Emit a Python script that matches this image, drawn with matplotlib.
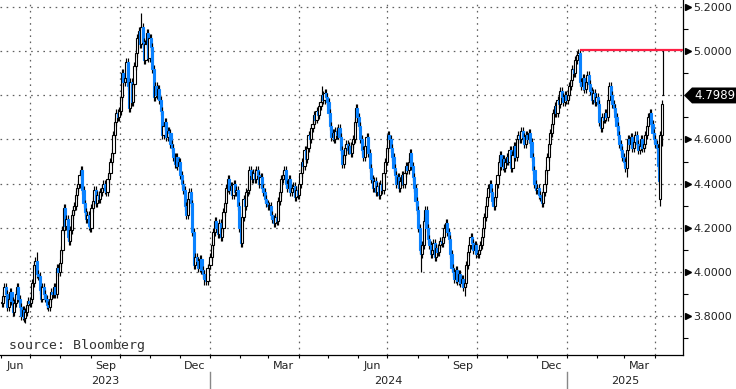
import datetime as dt

import matplotlib
matplotlib.use("Agg")
import matplotlib.pyplot as plt
import matplotlib.dates as mdates
import matplotlib.transforms as mtransforms
from matplotlib.patches import Polygon, Rectangle
from matplotlib.lines import Line2D
from matplotlib.ticker import NullFormatter
import numpy as np

# daily closes (yield, %), one list per month
jun23 = [3.86, 3.89, 3.93, 3.90, 3.84, 3.88, 3.91, 3.87, 3.82, 3.86, 3.90,
         3.93, 3.88, 3.84, 3.80, 3.83, 3.79, 3.82, 3.85, 3.87, 3.86]
jul23 = [3.88, 3.95, 4.03, 4.05, 3.99, 3.98, 3.92, 3.88, 3.93, 3.90, 3.88,
         3.85, 3.84, 3.88, 3.91, 3.90, 3.93, 3.90, 4.02, 4.00, 4.04]
aug23 = [4.10, 4.19, 4.29, 4.21, 4.24, 4.16, 4.14, 4.19, 4.26, 4.28, 4.30,
         4.35, 4.38, 4.40, 4.44, 4.46, 4.37, 4.31, 4.27, 4.24, 4.26, 4.21, 4.20]
sep23 = [4.29, 4.32, 4.37, 4.31, 4.35, 4.33, 4.36, 4.38, 4.40, 4.37, 4.36,
         4.42, 4.45, 4.50, 4.54, 4.62, 4.68, 4.72, 4.70, 4.73]
oct23 = [4.79, 4.90, 4.86, 4.88, 4.95, 4.84, 4.74, 4.86, 4.77, 4.85, 4.93,
         4.99, 5.06, 5.09, 5.03, 5.11, 5.04, 4.96, 5.03, 5.08, 4.97, 5.06]
nov23 = [5.02, 4.92, 4.79, 4.84, 4.80, 4.83, 4.78, 4.73, 4.62, 4.66, 4.68,
         4.61, 4.64, 4.63, 4.58, 4.56, 4.52, 4.49, 4.52, 4.48, 4.50]
dec23 = [4.44, 4.40, 4.37, 4.30, 4.26, 4.33, 4.36, 4.31, 4.18, 4.03, 4.07,
         4.05, 4.02, 4.06, 4.01, 3.99, 3.97, 3.96, 4.02, 4.03]
jan24 = [4.07, 4.12, 4.18, 4.23, 4.20, 4.17, 4.22, 4.16, 4.20, 4.27, 4.31,
         4.38, 4.42, 4.37, 4.39, 4.35, 4.40, 4.36, 4.37, 4.30, 4.20]
feb24 = [4.13, 4.25, 4.33, 4.30, 4.36, 4.37, 4.46, 4.44, 4.42, 4.45, 4.42,
         4.46, 4.44, 4.40, 4.43, 4.38, 4.36, 4.33, 4.31, 4.30]
mar24 = [4.30, 4.26, 4.24, 4.22, 4.25, 4.23, 4.32, 4.36, 4.42, 4.44, 4.46,
         4.40, 4.38, 4.42, 4.36, 4.38, 4.39, 4.34, 4.37, 4.35]
apr24 = [4.40, 4.45, 4.50, 4.48, 4.55, 4.51, 4.56, 4.62, 4.60, 4.65, 4.67,
         4.71, 4.69, 4.73, 4.71, 4.75, 4.77, 4.80, 4.78, 4.81, 4.79, 4.77]
may24 = [4.72, 4.66, 4.61, 4.63, 4.60, 4.64, 4.62, 4.65, 4.61, 4.55, 4.49,
         4.53, 4.56, 4.58, 4.55, 4.57, 4.54, 4.58, 4.60, 4.68, 4.74, 4.70]
jun24 = [4.66, 4.60, 4.55, 4.52, 4.57, 4.61, 4.54, 4.47, 4.42, 4.38, 4.41,
         4.36, 4.39, 4.35, 4.40, 4.37, 4.45, 4.50, 4.56]
jul24 = [4.62, 4.60, 4.56, 4.52, 4.47, 4.44, 4.40, 4.43, 4.38, 4.41, 4.44,
         4.40, 4.45, 4.48, 4.46, 4.50, 4.54, 4.48, 4.43, 4.38, 4.32, 4.28]
aug24 = [4.20, 4.10, 4.08, 4.12, 4.23, 4.28, 4.20, 4.15, 4.12, 4.08, 4.10,
         4.13, 4.07, 4.11, 4.09, 4.12, 4.14, 4.13, 4.16, 4.20, 4.22, 4.18]
sep24 = [4.15, 4.08, 4.02, 4.00, 3.97, 4.01, 3.96, 3.99, 3.95, 3.97, 3.93,
         3.95, 4.03, 4.09, 4.12, 4.16, 4.13, 4.10, 4.12, 4.08]
oct24 = [4.08, 4.10, 4.12, 4.16, 4.20, 4.25, 4.30, 4.34, 4.38, 4.40, 4.36,
         4.32, 4.30, 4.34, 4.40, 4.44, 4.50, 4.53, 4.48, 4.51, 4.47, 4.50, 4.52]
nov24 = [4.50, 4.55, 4.47, 4.53, 4.57, 4.52, 4.60, 4.62, 4.60, 4.64, 4.61,
         4.58, 4.62, 4.60, 4.63, 4.59, 4.52, 4.46, 4.40, 4.37]
dec24 = [4.38, 4.35, 4.34, 4.31, 4.36, 4.40, 4.46, 4.52, 4.58, 4.63, 4.67,
         4.72, 4.75, 4.72, 4.78, 4.76, 4.82, 4.79, 4.77, 4.80, 4.78]
jan25 = [4.80, 4.84, 4.87, 4.92, 4.90, 4.96, 4.98, 4.99, 4.86, 4.84, 4.88,
         4.83, 4.86, 4.89, 4.85, 4.82, 4.78, 4.81, 4.77, 4.79]
feb25 = [4.76, 4.68, 4.65, 4.70, 4.69, 4.72, 4.70, 4.78, 4.84, 4.80, 4.76,
         4.74, 4.70, 4.66, 4.62, 4.58, 4.55, 4.52, 4.50]
mar25 = [4.47, 4.55, 4.60, 4.58, 4.61, 4.56, 4.59, 4.62, 4.58, 4.55, 4.57,
         4.60, 4.56, 4.58, 4.62, 4.66, 4.70, 4.72, 4.67, 4.63, 4.60]
apr25 = [4.58, 4.56, 4.48, 4.41, 4.62, 4.76, 4.7989]

months = [(2023, 6, jun23), (2023, 7, jul23), (2023, 8, aug23), (2023, 9, sep23),
          (2023, 10, oct23), (2023, 11, nov23), (2023, 12, dec23),
          (2024, 1, jan24), (2024, 2, feb24), (2024, 3, mar24), (2024, 4, apr24),
          (2024, 5, may24), (2024, 6, jun24), (2024, 7, jul24), (2024, 8, aug24),
          (2024, 9, sep24), (2024, 10, oct24), (2024, 11, nov24), (2024, 12, dec24),
          (2025, 1, jan25), (2025, 2, feb25), (2025, 3, mar25), (2025, 4, apr25)]
last_day = dt.date(2025, 4, 10)

# opens that differ from the previous close, and visible wick extremes
open_fix = {"2025-04-07": 4.33, "2025-04-09": 4.7989}
wick_lows = {"2023-06-26": 3.77, "2023-12-27": 3.94, "2024-08-05": 4.00,
             "2024-09-18": 3.89, "2025-03-03": 4.43, "2025-04-07": 4.30,
             "2025-04-08": 4.57, "2025-04-09": 4.7989}
wick_highs = {"2023-07-07": 4.09, "2023-10-23": 5.17, "2024-04-25": 4.84,
              "2025-01-14": 5.01, "2025-04-09": 5.01}

last_price = 4.7989
jan_high = 5.005
y_ticks = [3.8, 4.0, 4.2, 4.4, 4.6, 4.8, 5.0, 5.2]
y_minor = [3.7, 3.9, 4.1, 4.3, 4.5, 4.7, 4.9, 5.1]

BLUE = "#0a82ff"
WICK = 0.018

# ---- positions of each session inside its month
xs, closes = [], []
for y, m, vals in months:
    start = mdates.date2num(dt.date(y, m, 1))
    if (y, m) == (2025, 4):
        end = mdates.date2num(last_day)
    else:
        end = mdates.date2num(dt.date(y + m // 12, m % 12 + 1, 1))
    n = len(vals)
    for i, v in enumerate(vals):
        xs.append(start + (i + 0.5) * (end - start) / n)
        closes.append(v)
xs = np.array(xs)
opens = [closes[0]] + closes[:-1]


def nearest(day):
    return int(np.argmin(np.abs(xs - mdates.datestr2num(day))))


for d, v in open_fix.items():
    opens[nearest(d)] = v
lows = [min(o, c) - WICK for o, c in zip(opens, closes)]
highs = [max(o, c) + WICK for o, c in zip(opens, closes)]
for d, v in wick_lows.items():
    lows[nearest(d)] = v
for d, v in wick_highs.items():
    highs[nearest(d)] = v

# ---- figure
plt.rcParams["font.family"] = ["DejaVu Sans"]
fig = plt.figure(figsize=(7.36, 3.89), dpi=100)
ax = fig.add_axes([0, 1 - 355 / 389, 683 / 736, 355 / 389])

first = dt.date(2023, 5, 31)
last = dt.date(2025, 4, 30)
xmin = mdates.date2num(first)
xmax = mdates.date2num(last)
ax.set_xlim(xmin, xmax)
ax.set_ylim(3.6244, 5.2308)

for sp in ["left", "top"]:
    ax.spines[sp].set_visible(False)
for sp in ["right", "bottom"]:
    ax.spines[sp].set_linewidth(0.9)
    ax.spines[sp].set_color("black")

dots = (0, (1.3, 3.6))
ax.yaxis.grid(True, which="major", color="#606060", lw=0.9, ls=dots, zorder=1)
quarters = [dt.date(yy, mm, 1) for yy in (2023, 2024, 2025) for mm in (1, 4, 7, 10)]
for q in quarters:
    if first < q < last:
        ax.axvline(mdates.date2num(q), color="#606060", lw=0.9, ls=dots, zorder=1)

# candles
w = 2.2
for i in range(len(xs)):
    o, c = opens[i], closes[i]
    z = 3 + i * 1e-3
    ax.vlines(xs[i], lows[i], highs[i], color="black", lw=0.85, zorder=z)
    up = c >= o
    body = Rectangle((xs[i] - w / 2, min(o, c)), w, max(abs(c - o), 0.004),
                     facecolor="white" if up else BLUE,
                     edgecolor="black" if up else BLUE,
                     lw=0.8, zorder=z + 5e-4)
    ax.add_patch(body)

# line from the January high
ax.hlines(jan_high, mdates.date2num(dt.date(2025, 1, 14)), xmax,
          color="#ff1f44", lw=1.6, zorder=4)

# y axis on the right
ax.yaxis.tick_right()
ax.set_yticks(y_ticks)
ax.set_yticklabels(["" if abs(t - 4.8) < 1e-9 else f"{t:.4f}" for t in y_ticks])
ax.set_yticks(y_minor, minor=True)
ax.tick_params(axis="y", which="major", length=0, pad=7.5, labelsize=8,
               labelcolor="#222222")
ax.tick_params(axis="y", which="minor", length=3.6, width=0.8, color="black")
tri = mtransforms.blended_transform_factory(ax.transAxes, ax.transData)
marks = [t for t in y_ticks if abs(t - 4.8) > 1e-9]
ax.plot([1 + 5 / 683] * len(marks), marks, ls="none", marker=">", ms=5,
        color="black", transform=tri, clip_on=False)

# last price tag
tag = mtransforms.blended_transform_factory(fig.transFigure, ax.transData)
h = 0.036
fig.add_artist(Polygon([(684 / 736, last_price), (692 / 736, last_price + h),
                        (1.0, last_price + h), (1.0, last_price - h),
                        (692 / 736, last_price - h)],
                       closed=True, facecolor="black", edgecolor="none",
                       transform=tag))
fig.text(694 / 736, last_price, f"{last_price:.4f}", color="white", fontsize=8.5,
         va="center", ha="left", transform=tag)

# x axis: month ticks, quarter labels, years
ax.xaxis.set_major_locator(mdates.MonthLocator())
ax.xaxis.set_major_formatter(NullFormatter())
ax.xaxis.set_minor_locator(mdates.MonthLocator(bymonth=[3, 6, 9, 12], bymonthday=16))
ax.xaxis.set_minor_formatter(mdates.DateFormatter("%b"))
ax.tick_params(axis="x", which="major", length=2.5, width=0.8, color="black")
ax.tick_params(axis="x", which="minor", length=0, pad=4, labelsize=8,
               labelcolor="#222222")

yr = mtransforms.blended_transform_factory(ax.transData, fig.transFigure)
jan24_x = mdates.date2num(dt.date(2024, 1, 1))
jan25_x = mdates.date2num(dt.date(2025, 1, 1))
for xa, xb, label in [(xmin, jan24_x, "2023"), (jan24_x, jan25_x, "2024"),
                      (jan25_x, xmax, "2025")]:
    fig.text((xa + xb) / 2, 1 - 381 / 389, label, ha="center", va="center",
             fontsize=8, color="#222222", transform=yr)
for xb in [jan24_x, jan25_x]:
    fig.add_artist(Line2D([xb, xb], [0, 17 / 389], color="#888888", lw=1,
                          transform=yr))

fig.text(9 / 736, 1 - 346 / 389, "source: Bloomberg", family="DejaVu Sans Mono",
         fontsize=9.5, color="#333333", va="center", ha="left")

fig.savefig("out.png", dpi=100, facecolor="white")
